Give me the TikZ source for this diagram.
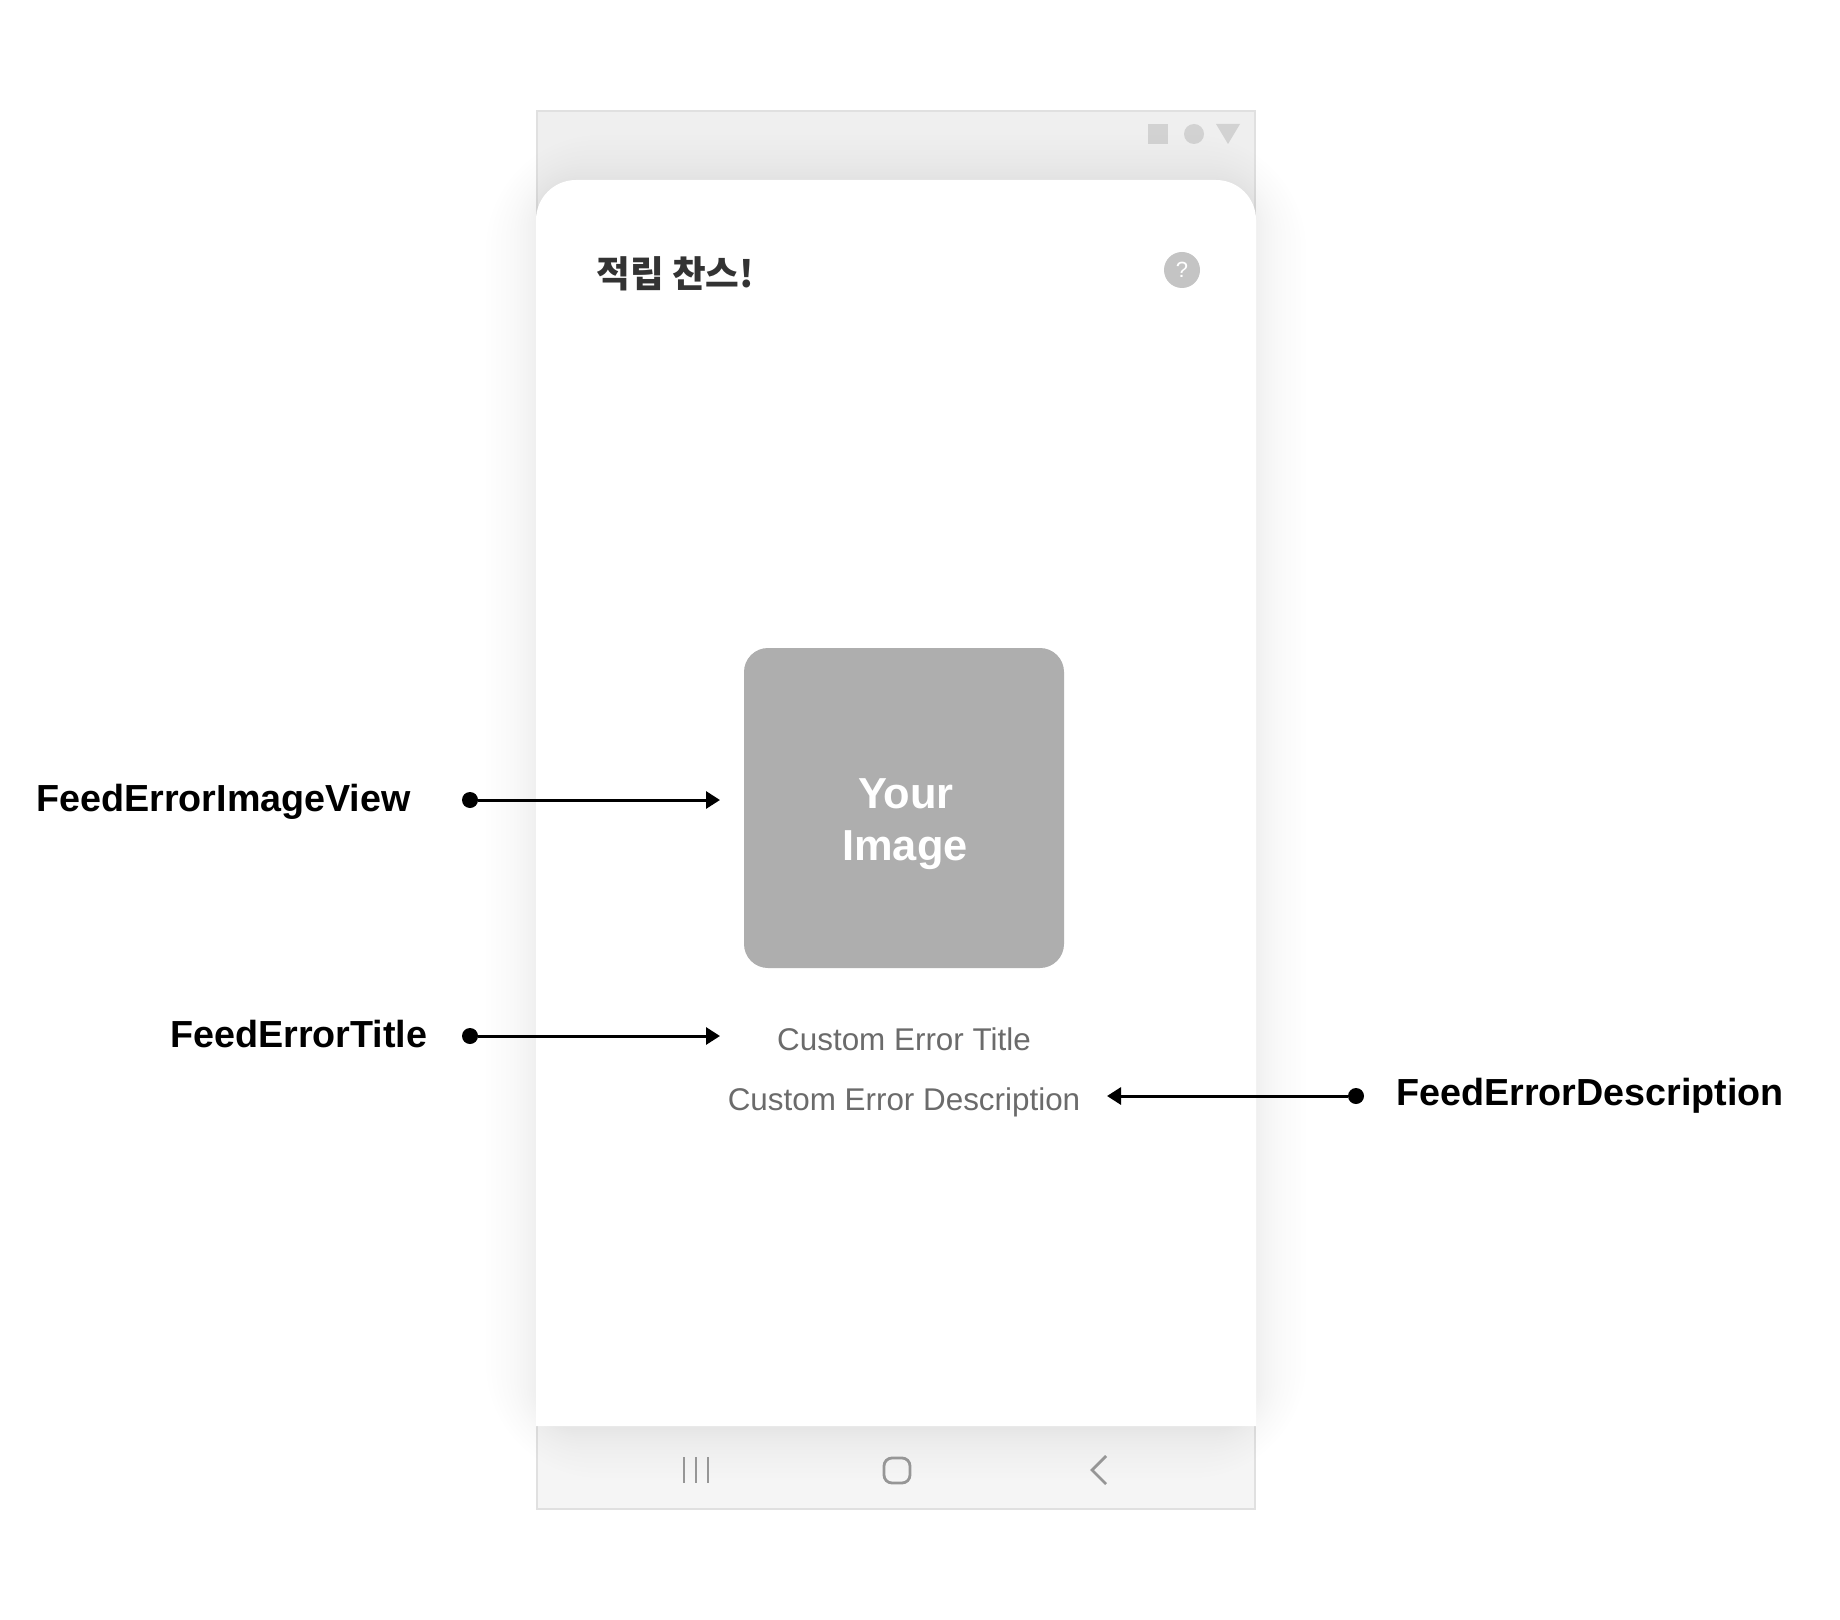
\documentclass[tikz,border=0pt]{standalone}
\usepackage{fontspec}
\setmainfont{Liberation Sans}
\newfontfamily\krfont{Noto Sans CJK KR}
\usetikzlibrary{arrows.meta}
\usetikzlibrary{positioning}
\definecolor{framefill}{HTML}{EFEFEF}
\definecolor{navfill}{HTML}{F5F5F5}
\definecolor{frameline}{HTML}{E0E0E0}
\definecolor{iconfill}{HTML}{D2D2D2}
\definecolor{navicon}{HTML}{969696}
\definecolor{helpfill}{HTML}{C4C4C4}
\definecolor{imagefill}{HTML}{AEAEAE}
\definecolor{bodytext}{HTML}{6B6B6B}
\definecolor{titletext}{HTML}{333333}
\tikzstyle{callout}=[anchor=base west, inner sep=0pt, text=black, font=\bfseries\fontsize{18.85}{22}\selectfont]
\tikzstyle{bodyline}=[anchor=base, inner sep=0pt, text=bodytext, font=\fontsize{15.7}{18}\selectfont]
\tikzstyle{imageline}=[anchor=base, inner sep=0pt, text=white, font=\bfseries\fontsize{21.7}{26}\selectfont]
\tikzstyle{dotnode}=[circle, fill=black, inner sep=0pt, minimum size=8pt]
\tikzstyle{tran}=[draw, line width=1.5pt, -{Stealth[length=7pt,width=8.5pt,inset=0pt]}]
\tikzstyle{navstroke}=[draw=navicon, line width=1.4pt]

\begin{document}
\begin{tikzpicture}[x=0.5pt, y=-0.5pt]

\useasboundingbox (0,0) rectangle (1840,1620);

% phone frame
\draw[frameline, line width=1pt, fill=framefill] (537,111) rectangle (1255,400);
\draw[frameline, line width=1pt, fill=navfill] (537,1300) rectangle (1255,1509);
\fill[iconfill] (1148,124) rectangle (1168,144);
\fill[iconfill] (1194,134) circle (5pt);
\fill[iconfill] (1216,124) -- (1240,124) -- (1228,144) -- cycle;

% soft shadow round the sheet
\foreach \d in {2,4,6,8,10,13,16,19,22,26,30,35,40,45,50}
  \fill[black, opacity=0.005, rounded corners={(40+1.5*\d)*0.5pt}]
    (536-\d,185-\d) rectangle (1256+\d,1428+\d);

% white sheet
\fill[white] (536,1426) -- (536,220) arc[start angle=180, end angle=90, radius=20pt]
  -- (1216,180) arc[start angle=90, end angle=0, radius=20pt] -- (1256,1426) -- cycle;

\node[anchor=base west, inner sep=0pt, text=titletext, font=\krfont\bfseries\fontsize{18.3}{23}\selectfont] (sheettitle) at (596,288) {적립 찬스!};
\node[circle, fill=helpfill, inner sep=0pt, minimum size=18pt, text=white, font=\fontsize{11}{13}\selectfont] (helpbtn) at (1182,270) {?};

% image placeholder
\fill[imagefill, rounded corners=12pt] (744,648) rectangle (1064,968);
\node[imageline] (imageyour) at (906,808) {Your};
\node[imageline] (imageword) at (905,860) {Image};

\node[bodyline] (errortitle) at (904,1050) {Custom Error Title};
\node[bodyline] (errordesc)  at (904,1110) {Custom Error Description};

% callouts
\node[callout] (viewlabel)  at (36,811)    {FeedErrorImageView};
\node[callout] (titlelabel) at (170,1047)  {FeedErrorTitle};
\node[callout] (desclabel)  at (1396,1105) {FeedErrorDescription};

\node[dotnode] (viewdot)  at (470,800)   {};
\node[dotnode] (titledot) at (470,1036)  {};
\node[dotnode] (descdot)  at (1356,1096) {};
\coordinate (viewtip)  at (720,800);
\coordinate (titletip) at (720,1036);
\coordinate (desctip)  at (1107,1096);

\draw[tran] (viewdot)  -- (viewtip);
\draw[tran] (titledot) -- (titletip);
\draw[tran] (descdot)  -- (desctip);

% navigation bar
\draw[navstroke] (684,1457) -- (684,1483);
\draw[navstroke] (696,1457) -- (696,1483);
\draw[navstroke] (708,1457) -- (708,1483);
\draw[navstroke, rounded corners=4pt] (884,1458) rectangle (910,1483);
\draw[navstroke] (1106,1456) -- (1092,1470) -- (1106,1484);

\end{tikzpicture}
\end{document}
